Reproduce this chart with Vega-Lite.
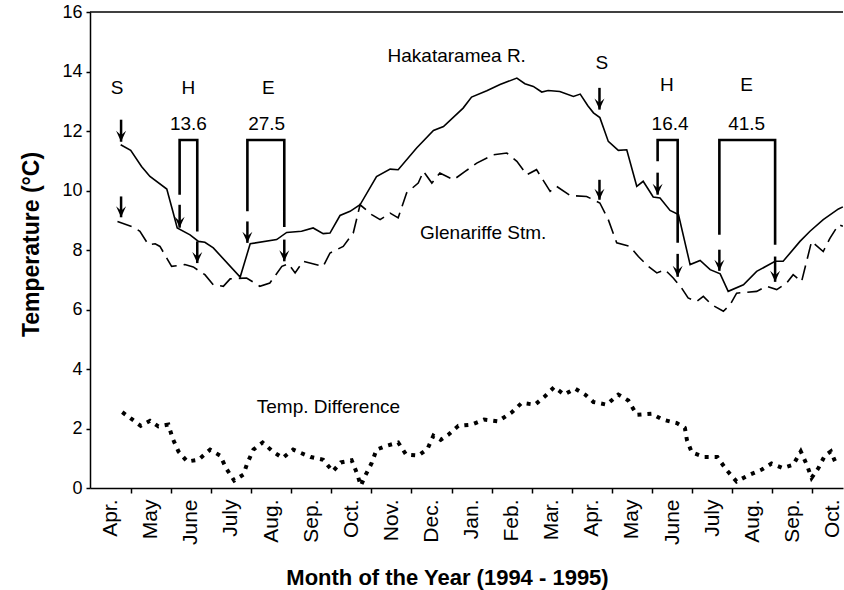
{
  "$schema": "https://vega.github.io/schema/vega-lite/v6.json",
  "width": 753,
  "height": 476,
  "autosize": {"type": "none"},
  "padding": {"left": 90, "top": 12, "right": 1, "bottom": 102},
  "background": "white",
  "config": {
    "view": {"stroke": null},
    "font": "Liberation Sans",
    "text": {"font": "Liberation Sans", "color": "black"}
  },
  "datasets": {
    "temps": [
      {"series": "Hakataramea R.", "month": 0.75, "temp": 11.54},
      {"series": "Hakataramea R.", "month": 1.0, "temp": 11.35},
      {"series": "Hakataramea R.", "month": 1.27, "temp": 10.81},
      {"series": "Hakataramea R.", "month": 1.48, "temp": 10.47},
      {"series": "Hakataramea R.", "month": 1.9, "temp": 10.05},
      {"series": "Hakataramea R.", "month": 2.05, "temp": 9.3},
      {"series": "Hakataramea R.", "month": 2.16, "temp": 8.74},
      {"series": "Hakataramea R.", "month": 2.48, "temp": 8.51},
      {"series": "Hakataramea R.", "month": 2.69, "temp": 8.29},
      {"series": "Hakataramea R.", "month": 2.85, "temp": 8.26},
      {"series": "Hakataramea R.", "month": 3.06, "temp": 8.07},
      {"series": "Hakataramea R.", "month": 3.73, "temp": 7.09},
      {"series": "Hakataramea R.", "month": 3.98, "temp": 8.21},
      {"series": "Hakataramea R.", "month": 4.64, "temp": 8.35},
      {"series": "Hakataramea R.", "month": 4.89, "temp": 8.59},
      {"series": "Hakataramea R.", "month": 5.26, "temp": 8.63},
      {"series": "Hakataramea R.", "month": 5.55, "temp": 8.74},
      {"series": "Hakataramea R.", "month": 5.8, "temp": 8.55},
      {"series": "Hakataramea R.", "month": 5.97, "temp": 8.57},
      {"series": "Hakataramea R.", "month": 6.22, "temp": 9.16},
      {"series": "Hakataramea R.", "month": 6.47, "temp": 9.3},
      {"series": "Hakataramea R.", "month": 6.72, "temp": 9.52},
      {"series": "Hakataramea R.", "month": 7.13, "temp": 10.47},
      {"series": "Hakataramea R.", "month": 7.47, "temp": 10.72},
      {"series": "Hakataramea R.", "month": 7.67, "temp": 10.7},
      {"series": "Hakataramea R.", "month": 8.13, "temp": 11.43},
      {"series": "Hakataramea R.", "month": 8.55, "temp": 12.02},
      {"series": "Hakataramea R.", "month": 8.8, "temp": 12.15},
      {"series": "Hakataramea R.", "month": 9.29, "temp": 12.77},
      {"series": "Hakataramea R.", "month": 9.5, "temp": 13.14},
      {"series": "Hakataramea R.", "month": 9.88, "temp": 13.35},
      {"series": "Hakataramea R.", "month": 10.21, "temp": 13.56},
      {"series": "Hakataramea R.", "month": 10.63, "temp": 13.78},
      {"series": "Hakataramea R.", "month": 10.83, "temp": 13.59},
      {"series": "Hakataramea R.", "month": 11.04, "temp": 13.5},
      {"series": "Hakataramea R.", "month": 11.25, "temp": 13.31},
      {"series": "Hakataramea R.", "month": 11.41, "temp": 13.36},
      {"series": "Hakataramea R.", "month": 11.7, "temp": 13.33},
      {"series": "Hakataramea R.", "month": 12.04, "temp": 13.16},
      {"series": "Hakataramea R.", "month": 12.21, "temp": 13.24},
      {"series": "Hakataramea R.", "month": 12.4, "temp": 12.85},
      {"series": "Hakataramea R.", "month": 12.54, "temp": 12.61},
      {"series": "Hakataramea R.", "month": 12.7, "temp": 12.45},
      {"series": "Hakataramea R.", "month": 12.91, "temp": 11.65},
      {"series": "Hakataramea R.", "month": 13.16, "temp": 11.35},
      {"series": "Hakataramea R.", "month": 13.37, "temp": 11.37},
      {"series": "Hakataramea R.", "month": 13.62, "temp": 10.14},
      {"series": "Hakataramea R.", "month": 13.78, "temp": 10.31},
      {"series": "Hakataramea R.", "month": 14.03, "temp": 9.78},
      {"series": "Hakataramea R.", "month": 14.2, "temp": 9.75},
      {"series": "Hakataramea R.", "month": 14.45, "temp": 9.33},
      {"series": "Hakataramea R.", "month": 14.66, "temp": 9.19},
      {"series": "Hakataramea R.", "month": 14.95, "temp": 7.51},
      {"series": "Hakataramea R.", "month": 15.2, "temp": 7.65},
      {"series": "Hakataramea R.", "month": 15.45, "temp": 7.34},
      {"series": "Hakataramea R.", "month": 15.7, "temp": 7.2},
      {"series": "Hakataramea R.", "month": 15.9, "temp": 6.61},
      {"series": "Hakataramea R.", "month": 16.28, "temp": 6.83},
      {"series": "Hakataramea R.", "month": 16.61, "temp": 7.28},
      {"series": "Hakataramea R.", "month": 17.07, "temp": 7.62},
      {"series": "Hakataramea R.", "month": 17.27, "temp": 7.62},
      {"series": "Hakataramea R.", "month": 17.69, "temp": 8.29},
      {"series": "Hakataramea R.", "month": 17.94, "temp": 8.63},
      {"series": "Hakataramea R.", "month": 18.27, "temp": 9.02},
      {"series": "Hakataramea R.", "month": 18.65, "temp": 9.38},
      {"series": "Hakataramea R.", "month": 18.76, "temp": 9.45},

      {"series": "Glenariffe Stm.", "month": 0.67, "temp": 8.96},
      {"series": "Glenariffe Stm.", "month": 1.06, "temp": 8.77},
      {"series": "Glenariffe Stm.", "month": 1.23, "temp": 8.63},
      {"series": "Glenariffe Stm.", "month": 1.44, "temp": 8.18},
      {"series": "Glenariffe Stm.", "month": 1.61, "temp": 8.21},
      {"series": "Glenariffe Stm.", "month": 1.73, "temp": 8.12},
      {"series": "Glenariffe Stm.", "month": 2.02, "temp": 7.45},
      {"series": "Glenariffe Stm.", "month": 2.35, "temp": 7.51},
      {"series": "Glenariffe Stm.", "month": 2.56, "temp": 7.43},
      {"series": "Glenariffe Stm.", "month": 2.85, "temp": 7.17},
      {"series": "Glenariffe Stm.", "month": 3.06, "temp": 6.83},
      {"series": "Glenariffe Stm.", "month": 3.31, "temp": 6.78},
      {"series": "Glenariffe Stm.", "month": 3.48, "temp": 7.03},
      {"series": "Glenariffe Stm.", "month": 3.89, "temp": 7.06},
      {"series": "Glenariffe Stm.", "month": 4.22, "temp": 6.78},
      {"series": "Glenariffe Stm.", "month": 4.47, "temp": 6.89},
      {"series": "Glenariffe Stm.", "month": 4.77, "temp": 7.45},
      {"series": "Glenariffe Stm.", "month": 4.93, "temp": 7.54},
      {"series": "Glenariffe Stm.", "month": 5.1, "temp": 7.23},
      {"series": "Glenariffe Stm.", "month": 5.3, "temp": 7.62},
      {"series": "Glenariffe Stm.", "month": 5.8, "temp": 7.45},
      {"series": "Glenariffe Stm.", "month": 5.97, "temp": 7.9},
      {"series": "Glenariffe Stm.", "month": 6.3, "temp": 8.12},
      {"series": "Glenariffe Stm.", "month": 6.55, "temp": 8.57},
      {"series": "Glenariffe Stm.", "month": 6.72, "temp": 9.52},
      {"series": "Glenariffe Stm.", "month": 7.01, "temp": 9.19},
      {"series": "Glenariffe Stm.", "month": 7.22, "temp": 9.02},
      {"series": "Glenariffe Stm.", "month": 7.47, "temp": 9.24},
      {"series": "Glenariffe Stm.", "month": 7.67, "temp": 9.08},
      {"series": "Glenariffe Stm.", "month": 7.88, "temp": 9.92},
      {"series": "Glenariffe Stm.", "month": 8.17, "temp": 10.25},
      {"series": "Glenariffe Stm.", "month": 8.3, "temp": 10.64},
      {"series": "Glenariffe Stm.", "month": 8.51, "temp": 10.25},
      {"series": "Glenariffe Stm.", "month": 8.71, "temp": 10.59},
      {"series": "Glenariffe Stm.", "month": 9.05, "temp": 10.36},
      {"series": "Glenariffe Stm.", "month": 9.34, "temp": 10.64},
      {"series": "Glenariffe Stm.", "month": 9.63, "temp": 10.92},
      {"series": "Glenariffe Stm.", "month": 10.04, "temp": 11.2},
      {"series": "Glenariffe Stm.", "month": 10.38, "temp": 11.26},
      {"series": "Glenariffe Stm.", "month": 10.63, "temp": 10.98},
      {"series": "Glenariffe Stm.", "month": 10.88, "temp": 10.53},
      {"series": "Glenariffe Stm.", "month": 11.12, "temp": 10.7},
      {"series": "Glenariffe Stm.", "month": 11.46, "temp": 9.97},
      {"series": "Glenariffe Stm.", "month": 11.62, "temp": 10.14},
      {"series": "Glenariffe Stm.", "month": 11.96, "temp": 9.83},
      {"series": "Glenariffe Stm.", "month": 12.37, "temp": 9.8},
      {"series": "Glenariffe Stm.", "month": 12.7, "temp": 9.58},
      {"series": "Glenariffe Stm.", "month": 12.91, "temp": 9.02},
      {"series": "Glenariffe Stm.", "month": 13.12, "temp": 8.24},
      {"series": "Glenariffe Stm.", "month": 13.45, "temp": 8.12},
      {"series": "Glenariffe Stm.", "month": 13.66, "temp": 7.78},
      {"series": "Glenariffe Stm.", "month": 13.91, "temp": 7.45},
      {"series": "Glenariffe Stm.", "month": 14.12, "temp": 7.23},
      {"series": "Glenariffe Stm.", "month": 14.32, "temp": 7.34},
      {"series": "Glenariffe Stm.", "month": 14.53, "temp": 7.06},
      {"series": "Glenariffe Stm.", "month": 14.74, "temp": 6.72},
      {"series": "Glenariffe Stm.", "month": 14.9, "temp": 6.39},
      {"series": "Glenariffe Stm.", "month": 15.11, "temp": 6.27},
      {"series": "Glenariffe Stm.", "month": 15.28, "temp": 6.44},
      {"series": "Glenariffe Stm.", "month": 15.49, "temp": 6.16},
      {"series": "Glenariffe Stm.", "month": 15.78, "temp": 5.94},
      {"series": "Glenariffe Stm.", "month": 15.95, "temp": 6.16},
      {"series": "Glenariffe Stm.", "month": 16.11, "temp": 6.55},
      {"series": "Glenariffe Stm.", "month": 16.61, "temp": 6.61},
      {"series": "Glenariffe Stm.", "month": 16.86, "temp": 6.78},
      {"series": "Glenariffe Stm.", "month": 17.11, "temp": 6.67},
      {"series": "Glenariffe Stm.", "month": 17.36, "temp": 6.89},
      {"series": "Glenariffe Stm.", "month": 17.52, "temp": 7.17},
      {"series": "Glenariffe Stm.", "month": 17.73, "temp": 6.94},
      {"series": "Glenariffe Stm.", "month": 17.98, "temp": 8.29},
      {"series": "Glenariffe Stm.", "month": 18.27, "temp": 7.95},
      {"series": "Glenariffe Stm.", "month": 18.44, "temp": 8.4},
      {"series": "Glenariffe Stm.", "month": 18.65, "temp": 8.85},
      {"series": "Glenariffe Stm.", "month": 18.76, "temp": 8.8},

      {"series": "Temp. Difference", "month": 0.79, "temp": 2.55},
      {"series": "Temp. Difference", "month": 1.02, "temp": 2.32},
      {"series": "Temp. Difference", "month": 1.25, "temp": 2.09},
      {"series": "Temp. Difference", "month": 1.48, "temp": 2.26},
      {"series": "Temp. Difference", "month": 1.69, "temp": 2.07},
      {"series": "Temp. Difference", "month": 1.94, "temp": 2.13},
      {"series": "Temp. Difference", "month": 2.05, "temp": 1.65},
      {"series": "Temp. Difference", "month": 2.19, "temp": 1.23},
      {"series": "Temp. Difference", "month": 2.41, "temp": 0.89},
      {"series": "Temp. Difference", "month": 2.69, "temp": 0.95},
      {"series": "Temp. Difference", "month": 2.98, "temp": 1.29},
      {"series": "Temp. Difference", "month": 3.23, "temp": 1.09},
      {"series": "Temp. Difference", "month": 3.39, "temp": 0.64},
      {"series": "Temp. Difference", "month": 3.58, "temp": 0.25},
      {"series": "Temp. Difference", "month": 3.81, "temp": 0.45},
      {"series": "Temp. Difference", "month": 3.91, "temp": 0.84},
      {"series": "Temp. Difference", "month": 4.06, "temp": 1.29},
      {"series": "Temp. Difference", "month": 4.29, "temp": 1.53},
      {"series": "Temp. Difference", "month": 4.54, "temp": 1.23},
      {"series": "Temp. Difference", "month": 4.79, "temp": 1.01},
      {"series": "Temp. Difference", "month": 5.05, "temp": 1.29},
      {"series": "Temp. Difference", "month": 5.24, "temp": 1.18},
      {"series": "Temp. Difference", "month": 5.49, "temp": 1.04},
      {"series": "Temp. Difference", "month": 5.8, "temp": 0.95},
      {"series": "Temp. Difference", "month": 6.04, "temp": 0.56},
      {"series": "Temp. Difference", "month": 6.24, "temp": 0.86},
      {"series": "Temp. Difference", "month": 6.51, "temp": 0.93},
      {"series": "Temp. Difference", "month": 6.64, "temp": 0.5},
      {"series": "Temp. Difference", "month": 6.74, "temp": 0.08},
      {"series": "Temp. Difference", "month": 6.84, "temp": 0.39},
      {"series": "Temp. Difference", "month": 7.01, "temp": 0.84},
      {"series": "Temp. Difference", "month": 7.13, "temp": 1.29},
      {"series": "Temp. Difference", "month": 7.38, "temp": 1.42},
      {"series": "Temp. Difference", "month": 7.67, "temp": 1.53},
      {"series": "Temp. Difference", "month": 7.87, "temp": 1.12},
      {"series": "Temp. Difference", "month": 8.17, "temp": 1.09},
      {"series": "Temp. Difference", "month": 8.4, "temp": 1.31},
      {"series": "Temp. Difference", "month": 8.55, "temp": 1.76},
      {"series": "Temp. Difference", "month": 8.73, "temp": 1.62},
      {"series": "Temp. Difference", "month": 8.92, "temp": 1.79},
      {"series": "Temp. Difference", "month": 9.17, "temp": 2.09},
      {"series": "Temp. Difference", "month": 9.5, "temp": 2.13},
      {"series": "Temp. Difference", "month": 9.81, "temp": 2.3},
      {"series": "Temp. Difference", "month": 10.17, "temp": 2.24},
      {"series": "Temp. Difference", "month": 10.25, "temp": 2.32},
      {"series": "Temp. Difference", "month": 10.5, "temp": 2.54},
      {"series": "Temp. Difference", "month": 10.75, "temp": 2.86},
      {"series": "Temp. Difference", "month": 11.08, "temp": 2.8},
      {"series": "Temp. Difference", "month": 11.33, "temp": 3.08},
      {"series": "Temp. Difference", "month": 11.56, "temp": 3.39},
      {"series": "Temp. Difference", "month": 11.81, "temp": 3.14},
      {"series": "Temp. Difference", "month": 12.08, "temp": 3.34},
      {"series": "Temp. Difference", "month": 12.33, "temp": 3.14},
      {"series": "Temp. Difference", "month": 12.54, "temp": 2.89},
      {"series": "Temp. Difference", "month": 12.87, "temp": 2.8},
      {"series": "Temp. Difference", "month": 13.16, "temp": 3.14},
      {"series": "Temp. Difference", "month": 13.41, "temp": 2.94},
      {"series": "Temp. Difference", "month": 13.62, "temp": 2.46},
      {"series": "Temp. Difference", "month": 13.99, "temp": 2.5},
      {"series": "Temp. Difference", "month": 14.26, "temp": 2.3},
      {"series": "Temp. Difference", "month": 14.62, "temp": 2.18},
      {"series": "Temp. Difference", "month": 14.82, "temp": 2.02},
      {"series": "Temp. Difference", "month": 14.87, "temp": 1.62},
      {"series": "Temp. Difference", "month": 14.99, "temp": 1.2},
      {"series": "Temp. Difference", "month": 15.31, "temp": 1.04},
      {"series": "Temp. Difference", "month": 15.63, "temp": 1.04},
      {"series": "Temp. Difference", "month": 15.85, "temp": 0.62},
      {"series": "Temp. Difference", "month": 16.11, "temp": 0.22},
      {"series": "Temp. Difference", "month": 16.44, "temp": 0.45},
      {"series": "Temp. Difference", "month": 16.74, "temp": 0.62},
      {"series": "Temp. Difference", "month": 16.98, "temp": 0.82},
      {"series": "Temp. Difference", "month": 17.26, "temp": 0.67},
      {"series": "Temp. Difference", "month": 17.52, "temp": 0.78},
      {"series": "Temp. Difference", "month": 17.71, "temp": 1.23},
      {"series": "Temp. Difference", "month": 17.86, "temp": 0.78},
      {"series": "Temp. Difference", "month": 17.98, "temp": 0.34},
      {"series": "Temp. Difference", "month": 18.15, "temp": 0.67},
      {"series": "Temp. Difference", "month": 18.31, "temp": 1.09},
      {"series": "Temp. Difference", "month": 18.46, "temp": 1.23},
      {"series": "Temp. Difference", "month": 18.61, "temp": 0.75}
    ],
    "brackets": [
      {"bracket": "13.6", "order": 1, "month": 2.22, "temp": 9.86},
      {"bracket": "13.6", "order": 2, "month": 2.22, "temp": 11.7},
      {"bracket": "13.6", "order": 3, "month": 2.66, "temp": 11.7},
      {"bracket": "13.6", "order": 4, "month": 2.66, "temp": 8.62},
      {"bracket": "27.5", "order": 1, "month": 3.91, "temp": 9.3},
      {"bracket": "27.5", "order": 2, "month": 3.91, "temp": 11.7},
      {"bracket": "27.5", "order": 3, "month": 4.83, "temp": 11.7},
      {"bracket": "27.5", "order": 4, "month": 4.83, "temp": 8.77},
      {"bracket": "16.4", "order": 1, "month": 14.14, "temp": 10.98},
      {"bracket": "16.4", "order": 2, "month": 14.14, "temp": 11.7},
      {"bracket": "16.4", "order": 3, "month": 14.64, "temp": 11.7},
      {"bracket": "16.4", "order": 4, "month": 14.64, "temp": 8.24},
      {"bracket": "41.5", "order": 1, "month": 15.68, "temp": 8.51},
      {"bracket": "41.5", "order": 2, "month": 15.68, "temp": 11.7},
      {"bracket": "41.5", "order": 3, "month": 17.07, "temp": 11.7},
      {"bracket": "41.5", "order": 4, "month": 17.07, "temp": 8.18}
    ],
    "arrows": [
      {"month": 0.76, "top": 12.38, "temp": 11.64},
      {"month": 0.76, "top": 9.8, "temp": 9.1},
      {"month": 2.22, "top": 9.52, "temp": 8.75},
      {"month": 2.66, "top": 8.29, "temp": 7.56},
      {"month": 3.91, "top": 8.96, "temp": 8.24},
      {"month": 4.83, "top": 8.35, "temp": 7.62},
      {"month": 12.69, "top": 13.45, "temp": 12.72},
      {"month": 12.69, "top": 10.36, "temp": 9.69},
      {"month": 14.14, "top": 10.6, "temp": 9.86},
      {"month": 14.64, "top": 7.87, "temp": 7.1},
      {"month": 15.68, "top": 8.01, "temp": 7.3},
      {"month": 17.07, "top": 7.78, "temp": 6.93}
    ],
    "labels": [
      {"label": "S", "month": 0.66, "temp": 13.44},
      {"label": "H", "month": 2.44, "temp": 13.46},
      {"label": "E", "month": 4.43, "temp": 13.46},
      {"label": "13.6", "month": 2.44, "temp": 12.25},
      {"label": "27.5", "month": 4.39, "temp": 12.25},
      {"label": "S", "month": 12.75, "temp": 14.29},
      {"label": "H", "month": 14.37, "temp": 13.53},
      {"label": "E", "month": 16.36, "temp": 13.53},
      {"label": "16.4", "month": 14.45, "temp": 12.25},
      {"label": "41.5", "month": 16.36, "temp": 12.25},
      {"label": "Hakataramea R.", "month": 9.13, "temp": 14.51},
      {"label": "Glenariffe Stm.", "month": 9.79, "temp": 8.57},
      {"label": "Temp. Difference", "month": 5.93, "temp": 2.72}
    ],
    "frame": [{"month": -0.015, "month_end": 18.763, "temp": 16}]
  },
  "encoding": {
    "x": {
      "field": "month", "type": "quantitative",
      "scale": {"domain": [-0.015, 18.763], "nice": false, "zero": false},
      "axis": {
        "values": [0.5, 1, 1.5, 2, 2.5, 3, 3.5, 4, 4.5, 5, 5.5, 6, 6.5, 7, 7.5, 8, 8.5, 9, 9.5, 10, 10.5, 11, 11.5, 12, 12.5, 13, 13.5, 14, 14.5, 15, 15.5, 16, 16.5, 17, 17.5, 18, 18.5],
        "labelExpr": "datum.value % 1 == 0 ? '' : ['Apr.','May','June','July','Aug.','Sep.','Oct.','Nov.','Dec.','Jan.','Feb.','Mar.','Apr.','May','June','July','Aug.','Sep.','Oct.'][floor(datum.value)]",
        "tickOpacity": {"condition": {"test": "datum.value % 1 == 0", "value": 1}, "value": 0},
        "labelAngle": -90,
        "labelAlign": "right",
        "labelBaseline": "middle",
        "labelFont": "Liberation Sans",
        "labelFontSize": 21,
        "labelPadding": 6,
        "labelOverlap": false,
        "labelBound": false,
        "labelFlush": false,
        "labelColor": "black",
        "tickSize": 5,
        "tickColor": "black",
        "tickWidth": 1.5,
        "domainColor": "black",
        "domainWidth": 1.5,
        "grid": false,
        "title": "Month of the Year (1994 - 1995)",
        "titleFont": "Liberation Sans",
        "titleFontSize": 22,
        "titleFontWeight": "bold",
        "titleColor": "black",
        "titleX": 357,
        "titleY": 96,
        "titleBaseline": "alphabetic",
        "titleAlign": "center"
      }
    },
    "y": {
      "field": "temp", "type": "quantitative",
      "scale": {"domain": [0, 16], "nice": false},
      "axis": {
        "values": [0, 2, 4, 6, 8, 10, 12, 14, 16],
        "labelFont": "Liberation Sans",
        "labelFontSize": 18,
        "labelPadding": 4,
        "labelColor": "black",
        "tickSize": 4,
        "tickColor": "black",
        "tickWidth": 1.5,
        "domainColor": "black",
        "domainWidth": 1.5,
        "grid": false,
        "title": "Temperature (°C)",
        "titleFont": "Liberation Sans",
        "titleFontSize": 23,
        "titleFontWeight": "bold",
        "titleColor": "black",
        "titleX": -59,
        "titleY": 232,
        "titleBaseline": "middle",
        "titleAlign": "center",
        "titleAngle": -90
      }
    }
  },
  "layer": [
    {
      "data": {"name": "temps"},
      "transform": [{"filter": "datum.series === 'Hakataramea R.'"}],
      "mark": {"type": "line", "color": "black", "strokeWidth": 1.6, "strokeJoin": "miter"}
    },
    {
      "data": {"name": "temps"},
      "transform": [{"filter": "datum.series === 'Glenariffe Stm.'"}],
      "mark": {"type": "line", "color": "black", "strokeWidth": 1.6, "strokeDash": [15, 7]}
    },
    {
      "data": {"name": "temps"},
      "transform": [{"filter": "datum.series === 'Temp. Difference'"}],
      "mark": {"type": "line", "color": "black", "strokeWidth": 4, "strokeDash": [4, 6]}
    },
    {
      "data": {"name": "frame"},
      "mark": {"type": "rule", "color": "black", "strokeWidth": 1.6},
      "encoding": {"x2": {"field": "month_end"}}
    },
    {
      "data": {"name": "brackets"},
      "mark": {"type": "line", "color": "black", "strokeWidth": 2.6, "strokeJoin": "miter"},
      "encoding": {
        "detail": {"field": "bracket"},
        "order": {"field": "order"}
      }
    },
    {
      "data": {"name": "arrows"},
      "mark": {"type": "rule", "color": "black", "strokeWidth": 2.5},
      "encoding": {"y2": {"field": "top"}}
    },
    {
      "data": {"name": "arrows"},
      "mark": {"type": "point", "shape": "M-1,-2.2L0,0L1,-2.2L0,-1.3Z", "filled": true, "color": "black", "opacity": 1, "size": 100}
    },
    {
      "data": {"name": "labels"},
      "mark": {"type": "text", "color": "black", "fontSize": 19, "font": "Liberation Sans", "align": "center", "baseline": "middle"},
      "encoding": {"text": {"field": "label"}}
    }
  ]
}
